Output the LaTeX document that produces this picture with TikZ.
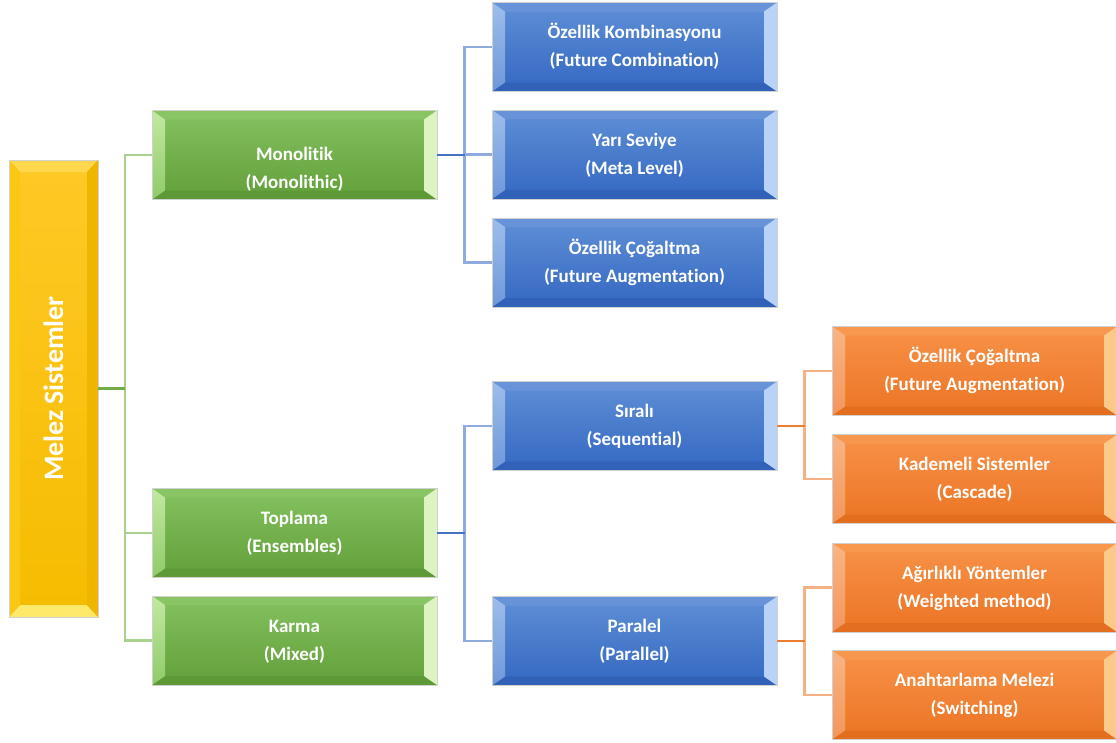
\documentclass[tikz,border=0pt]{standalone}
\usepackage{fontspec}
\setmainfont{Carlito}[Ligatures={NoCommon}]
\usepackage{graphicx}
\usetikzlibrary{calc}

% fills
\definecolor{gTop}{HTML}{84C160}\definecolor{gBot}{HTML}{62A03A}
\definecolor{gLt}{HTML}{C2E9A2}\definecolor{gLb}{HTML}{8FCB68}
\definecolor{gR}{HTML}{DDF4C2}\definecolor{gT}{HTML}{89C465}\definecolor{gB}{HTML}{5D9937}
\definecolor{bTop}{HTML}{5F8FD6}\definecolor{bBot}{HTML}{3468C2}
\definecolor{bLt}{HTML}{9DBDEB}\definecolor{bLb}{HTML}{6F98DA}
\definecolor{bR}{HTML}{B8D3F7}\definecolor{bT}{HTML}{6893D8}\definecolor{bB}{HTML}{3262B8}
\definecolor{oTop}{HTML}{F79248}\definecolor{oBot}{HTML}{EC7424}
\definecolor{oLt}{HTML}{F9B585}\definecolor{oLb}{HTML}{F3965A}
\definecolor{oR}{HTML}{FBC98A}\definecolor{oT}{HTML}{F8984F}\definecolor{oB}{HTML}{E36E20}
\definecolor{yTop}{HTML}{FFC926}\definecolor{yBot}{HTML}{F5BC00}
\definecolor{yL}{HTML}{FBC715}\definecolor{yR}{HTML}{EFB600}
\definecolor{yT}{HTML}{FFD84E}\definecolor{yB}{HTML}{FFE96A}
% connectors
\definecolor{gLine}{HTML}{A9D18E}\definecolor{gLineD}{HTML}{70AD47}
\definecolor{bLine}{HTML}{8FAADC}\definecolor{bLineD}{HTML}{4472C4}
\definecolor{oLine}{HTML}{F4B183}\definecolor{oLineD}{HTML}{ED7D31}

\newcommand\twolines[2]{\begin{tabular}[t]{@{}c@{}}#1\\#2\end{tabular}}

\tikzset{
  bevel/.style n args={6}{path picture={
    \path (path picture bounding box.north west) coordinate (bnw)
          (path picture bounding box.south east) coordinate (bse);
    \path ([xshift=#5,yshift=-#6]bnw) coordinate (inw)
          ([xshift=-#5,yshift=#6]bse) coordinate (ise);
    \path[#3] (bnw) -- (bnw-|bse) -- (inw-|ise) -- (inw) -- cycle;
    \path[#4] (bnw|-bse) -- (inw|-ise) -- (ise) -- (bse) -- cycle;
    \path[#1] (bnw) -- (inw) -- (inw|-ise) -- (bnw|-bse) -- cycle;
    \path[#2] (bnw-|bse) -- (inw-|ise) -- (ise) -- (bse) -- cycle;
  }},
  box/.style={rectangle, minimum width=285pt, minimum height=89pt,
    inner sep=0pt, text=white, draw=black!18, line width=0.7pt,
    font=\fontsize{19}{28}\selectfont\bfseries},
  gbox/.style={box, top color=gTop, bottom color=gBot,
    bevel={top color=gLt,bottom color=gLb}{fill=gR}{fill=gT}{fill=gB}{13pt}{9pt}},
  bbox/.style={box, top color=bTop, bottom color=bBot,
    bevel={top color=bLt,bottom color=bLb}{fill=bR}{fill=bT}{fill=bB}{13pt}{9pt}},
  obox/.style={box, top color=oTop, bottom color=oBot,
    bevel={top color=oLt,bottom color=oLb}{fill=oR}{fill=oT}{fill=oB}{13pt}{9pt}},
  rootbox/.style={rectangle, minimum width=89pt, minimum height=457pt,
    inner sep=0pt, text=white, draw=black!18, line width=0.7pt,
    top color=yTop, bottom color=yBot,
    font=\fontsize{28}{30}\selectfont\bfseries,
    bevel={fill=yL}{fill=yR}{fill=yT}{fill=yB}{11pt}{12pt}},
  link/.style={line width=2.4pt},
}

\begin{document}
\begin{tikzpicture}[x=1pt,y=-1pt]
\useasboundingbox (0,0) rectangle (1116,742);

% root
\node[rootbox] (root) at (53.5,388.5) {\rotatebox{90}{Melez Sistemler}};

% second level
\node[gbox, text height=47.6pt, text depth=36.4pt] (mono) at (294.5,155)
  {\twolines{Monolitik}{(Monolithic)}};
\node[gbox] (topl) at (294.5,533) {\twolines{Toplama}{(Ensembles)}};
\node[gbox] (karma) at (294.5,640.5) {\twolines{Karma}{(Mixed)}};

% third level
\node[bbox] (kombi) at (634.5,47) {\twolines{Özellik Kombinasyonu}{(Future Combination)}};
\node[bbox] (yari) at (634.5,154.5) {\twolines{Yarı Seviye}{(Meta Level)}};
\node[bbox] (cogal) at (634.5,262.5) {\twolines{Özellik Çoğaltma}{(Future Augmentation)}};
\node[bbox] (sira) at (634.5,426) {\twolines{Sıralı}{(Sequential)}};
\node[bbox] (para) at (634.5,641) {\twolines{Paralel}{(Parallel)}};

% fourth level
\node[obox] (ocogal) at (974.5,371) {\twolines{Özellik Çoğaltma}{(Future Augmentation)}};
\node[obox] (kadem) at (974.5,479) {\twolines{Kademeli Sistemler}{(Cascade)}};
\node[obox] (agir) at (974.5,587.5) {\twolines{Ağırlıklı Yöntemler}{(Weighted method)}};
\node[obox] (anah) at (974.5,695) {\twolines{Anahtarlama Melezi}{(Switching)}};

% junction points
\coordinate (gj) at ($(root.east)!.5!(root.east -| mono.west)$);
\coordinate (bj1) at ($(mono.east)!.5!(mono.east -| yari.west)$);
\coordinate (bj2) at ($(topl.east)!.5!(topl.east -| sira.west)$);
\coordinate (oj1) at ($(sira.east)!.5!(sira.east -| ocogal.west)$);
\coordinate (oj2) at ($(para.east)!.5!(para.east -| agir.west)$);

% green tree
\draw[link, gLine] (mono.west) -| (gj |- karma.west) -- (karma.west);
\draw[link, gLine] (gj |- topl.west) -- (topl.west);
\draw[link, gLineD] (root.east) -- (gj);

% blue trees
\draw[link, bLine] (kombi.west) -| (bj1 |- cogal.west) -- (cogal.west);
\draw[link, bLine] (bj1 |- yari.west) -- (yari.west);
\draw[link, bLineD] (mono.east) -- (bj1);
\draw[link, bLine] (sira.west) -| (bj2 |- para.west) -- (para.west);
\draw[link, bLineD] (topl.east) -- (bj2);

% orange trees
\draw[link, oLine] (ocogal.west) -| (oj1 |- kadem.west) -- (kadem.west);
\draw[link, oLineD] (sira.east) -- (oj1);
\draw[link, oLine] (agir.west) -| (oj2 |- anah.west) -- (anah.west);
\draw[link, oLineD] (para.east) -- (oj2);
\end{tikzpicture}
\end{document}
